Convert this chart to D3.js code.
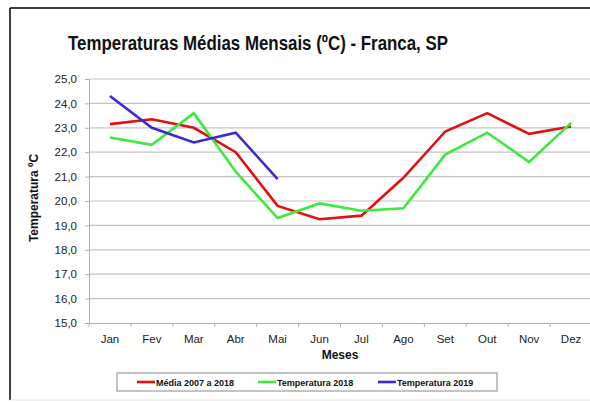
<!DOCTYPE html>
<html>
<head>
<meta charset="utf-8">
<script src="https://cdn.jsdelivr.net/npm/d3@7"></script>
<style>
  body { margin: 0; background: #fff; }
  svg { display: block; font-family: Arial, "Liberation Sans", sans-serif; }
</style>
</head>
<body>
<div id="chart"></div>
<script>
const months = ['Jan', 'Fev', 'Mar', 'Abr', 'Mai', 'Jun', 'Jul', 'Ago', 'Set', 'Out', 'Nov', 'Dez'];
const media = [23.15, 23.35, 23.0, 22.0, 19.8, 19.25, 19.4, 20.95, 22.85, 23.6, 22.75, 23.05];
const temp2018 = [22.6, 22.3, 23.6, 21.2, 19.3, 19.9, 19.6, 19.7, 21.9, 22.8, 21.6, 23.2];
const temp2019 = [24.3, 23.0, 22.4, 22.8, 20.9];
const yTicks = [15, 16, 17, 18, 19, 20, 21, 22, 23, 24, 25];

const series = [
  { name: 'Média 2007 a 2018', values: media, color: '#e31010' },
  { name: 'Temperatura 2018', values: temp2018, color: '#3ee83e' },
  { name: 'Temperatura 2019', values: temp2019, color: '#3a2bd0' },
];

const width = 590, height = 403;
const plot = { left: 89, right: 592, top: 79, bottom: 323 };

const svg = d3.select('#chart').append('svg')
  .attr('width', width).attr('height', height);

// outer frame
svg.append('line').attr('x1', 10).attr('x2', 10).attr('y1', 8).attr('y2', 400)
  .attr('stroke', '#000').attr('stroke-width', 1.5);
svg.append('line').attr('x1', 10).attr('x2', 590).attr('y1', 8).attr('y2', 8)
  .attr('stroke', '#000').attr('stroke-width', 1.5);
svg.append('line').attr('x1', 10).attr('x2', 590).attr('y1', 400).attr('y2', 400)
  .attr('stroke', '#e4e4e4').attr('stroke-width', 1);

svg.append('text')
  .attr('x', 68).attr('y', 50)
  .attr('font-size', 20).attr('font-weight', 'bold').attr('fill', '#111')
  .attr('textLength', 380).attr('lengthAdjust', 'spacingAndGlyphs')
  .text('Temperaturas Médias Mensais (ºC) - Franca, SP');

const x = d3.scaleBand().domain(months).range([plot.left, plot.right]);
const y = d3.scaleLinear().domain([15, 25]).range([plot.bottom, plot.top]);

// grid
svg.append('g').selectAll('line').data(yTicks.slice(1)).join('line')
  .attr('x1', plot.left).attr('x2', plot.right)
  .attr('y1', d => y(d)).attr('y2', d => y(d))
  .attr('stroke', '#c4c4c4').attr('stroke-width', 1.2);

const yAxis = d3.axisLeft(y).tickValues(yTicks).tickSize(4)
  .tickFormat(d => d3.format('.1f')(d).replace('.', ','));
const gy = svg.append('g').attr('transform', `translate(${plot.left},0)`).call(yAxis);
gy.select('.domain').attr('stroke', '#b0b0b0');
gy.selectAll('.tick line').attr('stroke', '#b0b0b0');
gy.selectAll('.tick text').attr('font-size', 11.5).attr('fill', '#222')
  .attr('font-family', 'Arial, "Liberation Sans", sans-serif').attr('dx', -5);

const xAxis = d3.axisBottom(x).tickSize(0).tickPadding(12);
const gx = svg.append('g').attr('transform', `translate(0,${plot.bottom})`).call(xAxis);
gx.select('.domain').attr('stroke', '#b0b0b0');
gx.selectAll('.tick text').attr('font-size', 11.5).attr('fill', '#222')
  .attr('font-family', 'Arial, "Liberation Sans", sans-serif');
// category boundary ticks
gx.append('g').selectAll('line').data(months).join('line')
  .attr('x1', d => x(d)).attr('x2', d => x(d))
  .attr('y1', 0).attr('y2', 4).attr('stroke', '#b0b0b0');

svg.append('text')
  .attr('x', 340).attr('y', 359).attr('text-anchor', 'middle')
  .attr('font-size', 12).attr('font-weight', 'bold').attr('fill', '#111')
  .text('Meses');

svg.append('text')
  .attr('transform', 'translate(38,198) rotate(-90)')
  .attr('text-anchor', 'middle')
  .attr('font-size', 12).attr('font-weight', 'bold').attr('fill', '#111')
  .text('Temperatura ºC');

const line = d3.line()
  .x((d, i) => x(months[i]) + x.bandwidth() / 2)
  .y(d => y(d));

svg.append('g').selectAll('path').data(series).join('path')
  .attr('d', d => line(d.values))
  .attr('fill', 'none')
  .attr('stroke', d => d.color)
  .attr('stroke-width', 2.6)
  .attr('stroke-linejoin', 'miter');

// legend
const legend = svg.append('g');
legend.append('rect')
  .attr('x', 117).attr('y', 373).attr('width', 380).attr('height', 18)
  .attr('fill', '#fff').attr('stroke', '#888').attr('stroke-width', 1);
const legX = [137, 258, 378];
const items = legend.selectAll('g.item').data(series).join('g')
  .attr('transform', (d, i) => `translate(${legX[i]},382)`);
items.append('line').attr('x1', 0).attr('x2', 18).attr('y1', 0).attr('y2', 0)
  .attr('stroke', d => d.color).attr('stroke-width', 2.6);
items.append('text').attr('x', 19).attr('y', 3.5)
  .attr('font-size', 9).attr('font-weight', 'bold').attr('fill', '#111')
  .text(d => d.name);
</script>
</body>
</html>
